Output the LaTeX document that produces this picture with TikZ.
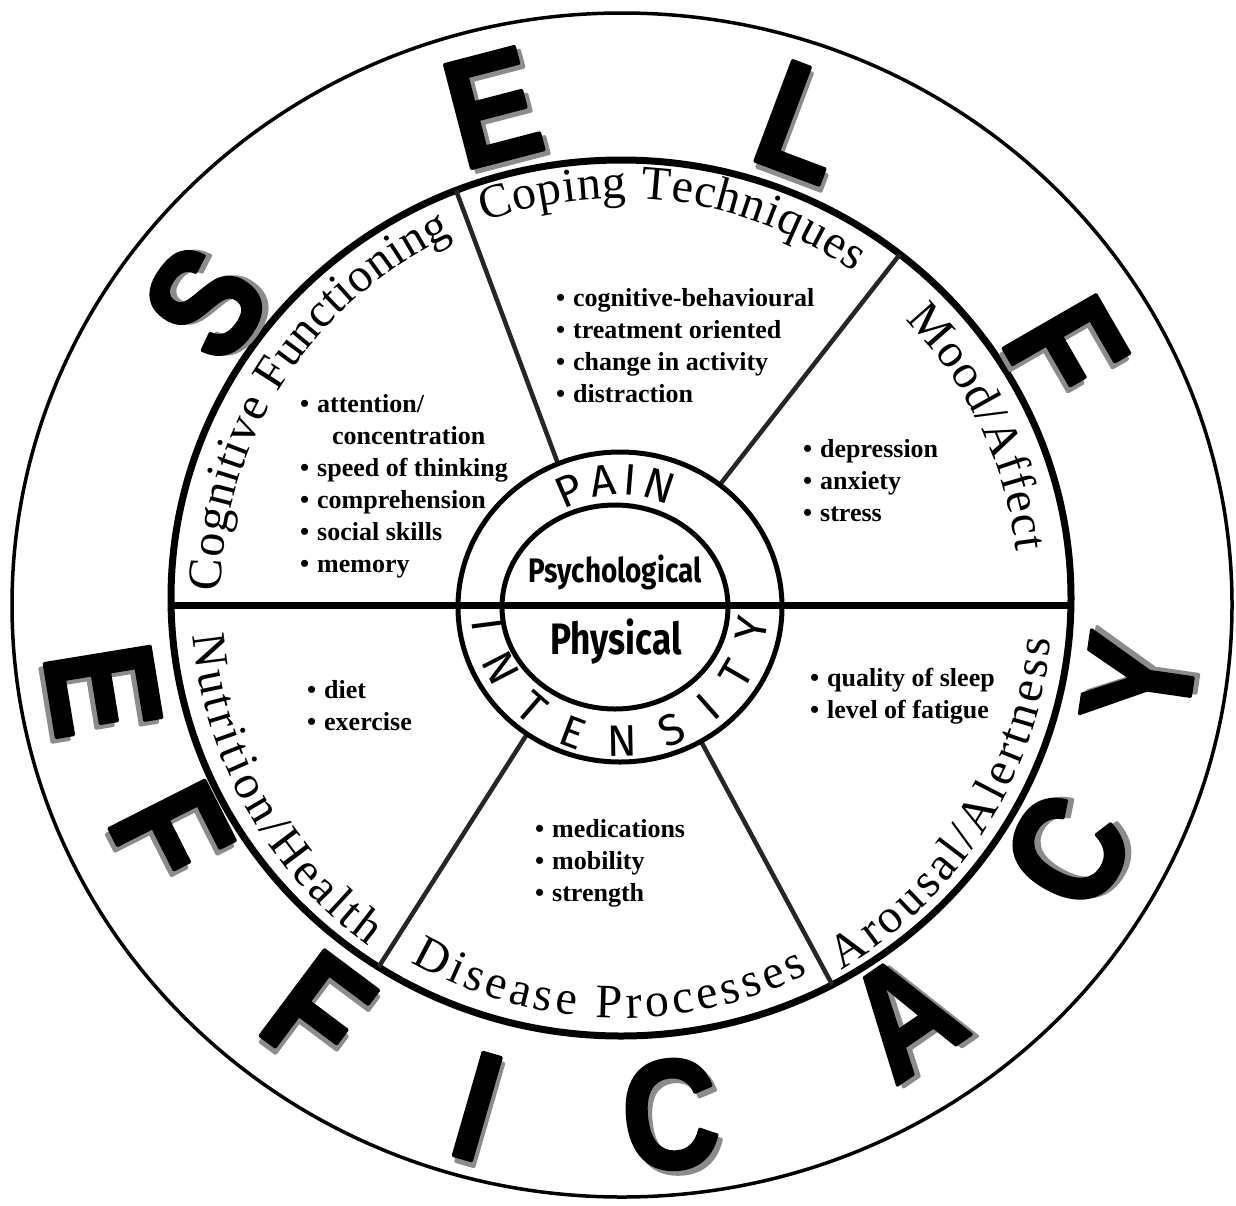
\documentclass[tikz,border=0pt]{standalone}
\usepackage{fontspec}
\usepackage{graphicx}
\setmainfont{Liberation Serif}
\newfontfamily\handfont{Fira Sans}
\newfontfamily\blockfont{Liberation Sans}[FakeBold=2]
\usetikzlibrary{calc,decorations.text}

\newcommand{\itm}[1]{\makebox[17pt][l]{\textbullet}#1}
\newcommand{\catfont}{\fontsize{48}{48}\selectfont}
\newcommand{\ringfont}{\handfont\fontsize{44}{44}\selectfont}
\newcommand{\blockch}[1]{\scalebox{0.86}[1]{#1}}

\begin{document}
\begin{tikzpicture}[x=1pt,y=1pt,line join=round,
  lst/.style={anchor=north west,inner sep=0,align=left,
    font=\bfseries\fontsize{26}{32}\selectfont},
  bigch/.style={inner sep=0,font=\blockfont\bfseries\fontsize{156}{156}\selectfont},
  spoke/.style={line width=4.5,black!85},
  ring/.style={line width=5},
  curved/.style={decorate,decoration={text along path,
    text align={fit to path},text={#1}}}]

  \fill[white] (0,0) rectangle (1236,-1205);

  \coordinate (O) at (622,-605);
  \coordinate (W) at (621,-598);
  \coordinate (R) at (620,-607);
  \coordinate (hL) at (171,-605);
  \coordinate (hR) at (1071,-605);

  % circles and dividing lines
  \draw[line width=3.5] (O) ellipse [x radius=610,y radius=592];
  \draw[line width=7] (W) ellipse [x radius=450,y radius=438];
  \draw[line width=7] (hL) -- (hR);
  \foreach \a/\b [count=\i] in {112.5/111.5,52/51.7,235/237.4,300/-62}{
    \coordinate (in\i) at ($(R)+(\a:162 and 155)$);
    \coordinate (out\i) at ($(W)+({450*cos(\b)},{438*sin(\b)})$);
    \draw[spoke] (in\i) -- (out\i);
  }
  \draw[ring] (R) ellipse [x radius=162,y radius=155];
  \draw[ring] (615,-607) ellipse [x radius=113,y radius=102];

  % SELF EFFICACY
  \foreach \ch/\a/\r [count=\i] in {S/144/515,E/104.6/514,L/69.4/516,F/30/512}{
    \node[bigch,black!45,rotate=\a-90] (topS\i) at ($(O)+(\a:\r)+(\a-90:4)+(\a:-5)$) {\blockch{\ch}};
    \node[bigch,rotate=\a-90] (top\i) at ($(O)+(\a:\r)$) {\blockch{\ch}};
  }
  \foreach \ch/\a/\r [count=\i] in {E/189.3/526,F/206.8/505,F/233.2/508,I/253.9/522,
      C/275.4/512,A/304.5/498,C/331.1/509,Y/351.8/522}{
    \node[bigch,black!45,rotate=\a+90] (botS\i) at ($(O)+(\a:\r)+(\a+90:4)+(\a:5)$) {\blockch{\ch}};
    \node[bigch,rotate=\a+90] (bot\i) at ($(O)+(\a:\r)$) {\blockch{\ch}};
  }

  % sector titles
  \path[curved={|\catfont|Cognitive Functioning}]
    ($(W)+(179:400)$) arc[start angle=179,end angle=115,radius=400];
  \path[curved={|\catfont|Coping Techniques}]
    ($(W)+(110:400)$) arc[start angle=110,end angle=54.5,radius=400];
  \path[curved={|\catfont|Mood/Affect}]
    ($(W)+(44.4:398)$) arc[start angle=44.4,end angle=6.7,radius=398];
  \path[curved={|\catfont|Nutrition/Health}]
    ($(W)+(185:430)$) arc[start angle=185,end angle=234,radius=430];
  \path[curved={|\catfont|Disease Processes}]
    ($(W)+(240:420)$) arc[start angle=240,end angle=296.5,radius=420];
  \path[curved={|\catfont|Arousal/Alertness}]
    ($(W)+(300.6:432)$) arc[start angle=300.6,end angle=354.5,radius=432];

  % bullet lists
  \node[lst] (cogList) at (300,-394) {\itm{attention/}\\
    \hspace*{32pt}concentration\\ \itm{speed of thinking}\\
    \itm{comprehension}\\ \itm{social skills}\\ \itm{memory}};
  \node[lst] (copList) at (556,-288) {\itm{cognitive-behavioural}\\
    \itm{treatment oriented}\\ \itm{change in activity}\\ \itm{distraction}};
  \node[lst] (moodList) at (803,-439) {\itm{depression}\\ \itm{anxiety}\\ \itm{stress}};
  \node[lst] (nutList) at (307,-680) {\itm{diet}\\ \itm{exercise}};
  \node[lst] (arList) at (810,-668) {\itm{quality of sleep}\\ \itm{level of fatigue}};
  \node[lst] (disList) at (535,-819) {\itm{medications}\\ \itm{mobility}\\ \itm{strength}};

  % pain rings
  \path[curved={|\ringfont|PAIN}]
    ($(R)+(120:112)$) arc[start angle=120,end angle=64,radius=112];
  \path[curved={|\ringfont|INTENSITY}]
    ($(R)+(185:149)$) arc[start angle=185,end angle=355,radius=149];
  \node[font=\handfont\bfseries\fontsize{34}{34}\selectfont] (psy) at (615,-572)
    {\scalebox{0.82}[1]{Psychological}};
  \node[font=\handfont\bfseries\fontsize{44}{44}\selectfont] (phy) at (616,-642)
    {\scalebox{0.8}[1]{Physical}};
\end{tikzpicture}
\end{document}
